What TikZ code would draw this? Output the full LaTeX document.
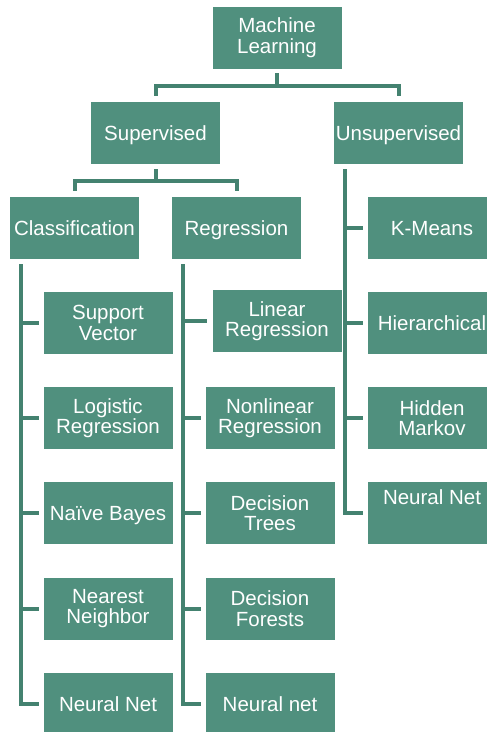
\documentclass[tikz,border=0pt]{standalone}
\usepackage{fontspec}
\setmainfont{Liberation Sans}
\definecolor{boxgreen}{RGB}{80,144,126}
\definecolor{linegreen}{RGB}{68,130,112}

\begin{document}
\begin{tikzpicture}[x=1pt,y=-1pt,every node/.style={draw=white,line width=0.6pt,shape=rectangle,fill=boxgreen,text=white,minimum width=130pt,minimum height=63pt,inner sep=0pt,align=center,font=\fontsize{20.5}{20.5}\selectfont},oneline/.style={text height=15pt,text depth=0pt}]

  \useasboundingbox (0,0) rectangle (487,732);

  % Specification of nodes (position, etc.)
  \node (ml) at (277,37.5) {Machine\\Learning};
  \node[oneline] (sup) at (155.5,132.5) {Supervised};
  \node[oneline] (uns) at (398.5,132.5) {Unsupervised};
  \node[oneline] (cls) at (74.5,227.5) {Classification};
  \node[oneline] (reg) at (236.5,227.5) {Regression};

  % classification column
  \node (c1) at (108,323) {Support\\Vector};
  \node (c2) at (108,418) {Logistic\\Regression};
  \node[oneline] (c3) at (108,513) {Naïve Bayes};
  \node (c4) at (108,608.5) {Nearest\\Neighbor};
  \node[oneline] (c5) at (108,703.5) {Neural Net};

  % regression column
  \node (r1) at (277,321) {Linear\\Regression};
  \node (r2) at (270,418) {Nonlinear\\Regression};
  \node (r3) at (270,513) {Decision\\Trees};
  \node (r4) at (270,608.5) {Decision\\Forests};
  \node[oneline] (r5) at (270,703.5) {Neural net};

  % unsupervised column
  \node[oneline] (u1) at (432,227.5) {K-Means};
  \node[oneline] (u2) at (432,323) {Hierarchical};
  \node (u3) at (432,418) {Hidden\\Markov};
  \node (u4) at (432,513) [text height=15pt,text depth=32pt] {Neural Net};

  \coordinate (ct) at (21,264);
  \coordinate (rt) at (183,264);
  \coordinate (ut) at (345,169);

  \begin{scope}[-,linegreen,line width=4pt]
    \draw[shorten <=4pt,shorten >=5pt] (ml.south) -- ++(0,17) -| (sup.north);
    \draw[shorten <=4pt,shorten >=5pt] (ml.south) -- ++(0,17) -| (uns.north);
    \draw[shorten <=5pt,shorten >=5pt] (sup.south) -- ++(0,17) -| (cls.north);
    \draw[shorten <=5pt,shorten >=5pt] (sup.south) -- ++(0,17) -| (reg.north);

    \draw[shorten >=4pt] (ct) |- (c5.west);
    \draw[shorten >=4pt] (ct |- c1.west) to (c1.west);
    \draw[shorten >=4pt] (ct |- c2.west) to (c2.west);
    \draw[shorten >=4pt] (ct |- c3.west) to (c3.west);
    \draw[shorten >=4pt] (ct |- c4.west) to (c4.west);

    \draw[shorten >=4pt] (rt) |- (r5.west);
    \draw[shorten >=5pt] (rt |- r1.west) to (r1.west);
    \draw[shorten >=4pt] (rt |- r2.west) to (r2.west);
    \draw[shorten >=4pt] (rt |- r3.west) to (r3.west);
    \draw[shorten >=4pt] (rt |- r4.west) to (r4.west);

    \draw[shorten >=4pt] (ut) |- (u4.west);
    \draw[shorten >=4pt] (ut |- u1.west) to (u1.west);
    \draw[shorten >=4pt] (ut |- u2.west) to (u2.west);
    \draw[shorten >=4pt] (ut |- u3.west) to (u3.west);
  \end{scope}

\end{tikzpicture}
\end{document}
